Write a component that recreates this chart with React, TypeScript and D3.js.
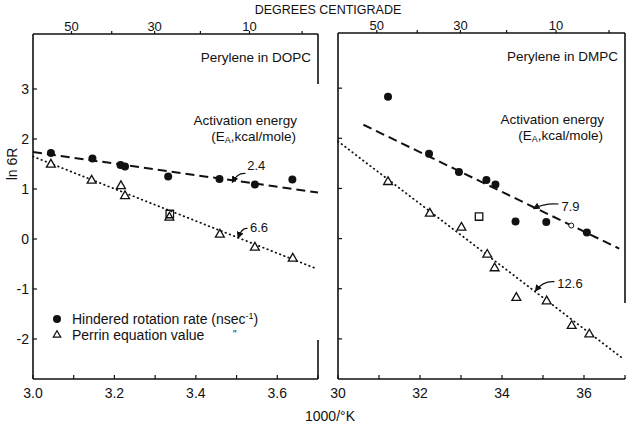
import React from 'react'
import * as d3 from 'd3'

// values: [1000/T, ln 6R]
const dopcRate = [[3.044, 1.72], [3.146, 1.61], [3.215, 1.48], [3.226, 1.45], [3.332, 1.25], [3.458, 1.20], [3.545, 1.09], [3.637, 1.19]]
const dopcPerrin = [[3.044, 1.51], [3.144, 1.19], [3.216, 1.08], [3.226, 0.88], [3.335, 0.45], [3.459, 0.11], [3.545, -0.15], [3.638, -0.37]]
const dopcSquare = [[3.336, 0.5]]
const dopcRateFit = [[3.0, 1.74], [3.7, 0.93]]
const dopcPerrinFit = [[3.0, 1.65], [3.695, -0.59]]

const dmpcRate = [[3.122, 2.83], [3.222, 1.69], [3.295, 1.33], [3.362, 1.17], [3.384, 1.08], [3.433, 0.34], [3.508, 0.33], [3.607, 0.12]]
const dmpcOpen = [[3.569, 0.26]]
const dmpcSquare = [[3.344, 0.44]]
const dmpcPerrin = [[3.122, 1.15], [3.224, 0.52], [3.301, 0.24], [3.364, -0.3], [3.382, -0.57], [3.435, -1.16], [3.509, -1.23], [3.57, -1.72], [3.613, -1.89]]
const dmpcRateFit = [[3.062, 2.27], [3.686, -0.2]]
const dmpcPerrinFit = [[3.0, 1.94], [3.693, -2.38]]

const yTicks = [-2, -1, 0, 1, 2, 3]
const xTicks = [3.0, 3.1, 3.2, 3.3, 3.4, 3.5, 3.6, 3.7]
const leftXLabels = ['3.0', '3.2', '3.4', '3.6']
const rightXLabels = ['30', '32', '34', '36']
const celsiusTicks = [50, 40, 30, 20, 10, 0]
const celsiusLabels = [50, 30, 10]

// annotation: label, text anchor point, arrow start, arrow end (data coords)
const dopcNotes = [
  {label: '2.4', at: [3.526, 1.38], from: [3.522, 1.31], to: [3.49, 1.14]},
  {label: '6.6', at: [3.533, 0.14], from: [3.527, 0.21], to: [3.504, 0.03]},
]
const dmpcNotes = [
  {label: '7.9', at: [3.545, 0.55], from: [3.538, 0.69], to: [3.478, 0.6]},
  {label: '12.6', at: [3.535, -0.99], from: [3.528, -0.86], to: [3.482, -1.04]},
]

const FONT = '"Liberation Sans", Arial, sans-serif'
const yDomain = [-2.8, 4.1]

const toInvK = (c: number) => 1000 / (c + 273.15)

const Panel = ({x0, x1, y0, y1, rate, perrin, squares, open, rateFit, perrinFit, notes, title, xLabels, showY, gapTop, gapBottom}: any) => {
  const x = d3.scaleLinear().domain([3.0, 3.7]).range([x0, x1])
  const y = d3.scaleLinear().domain(yDomain).range([y1, y0])
  const line = d3.line<number[]>().x(d => x(d[0])).y(d => y(d[1]))
  const tri = d3.symbol().type(d3.symbolTriangle).size(34)
  const sq = d3.symbol().type(d3.symbolSquare).size(56)

  return (
    <g>
      {/* frame */}
      <g stroke="#111" strokeWidth={1.6} fill="none">
        <line x1={x0} y1={y0} x2={x1} y2={y0} />
        <line x1={x0} y1={y0} x2={x0} y2={y1} />
        <line x1={x0} y1={y1} x2={x1} y2={y1} />
        <line x1={x1} y1={y0} x2={x1} y2={gapTop} />
        <line x1={x1} y1={gapBottom} x2={x1} y2={y1} />
      </g>
      {/* bottom ticks */}
      {xTicks.map(t => (
        <line key={t} x1={x(t)} x2={x(t)} y1={y1} y2={y1 - 4} stroke="#111" strokeWidth={1.2} />
      ))}
      {xLabels.map((l: string, i: number) => (
        <text key={l} x={x(xTicks[i * 2])} y={398} textAnchor="middle" fontSize={14} fontFamily={FONT} fill="#111">{l}</text>
      ))}
      {/* top celsius ticks */}
      {celsiusTicks.map(c => (
        <line key={c} x1={x(toInvK(c))} x2={x(toInvK(c))} y1={y0} y2={y0 - 3} stroke="#111" strokeWidth={1.2} />
      ))}
      {celsiusLabels.map(c => (
        <text key={c} x={x(toInvK(c))} y={y0 - 3} textAnchor="middle" fontSize={13} fontFamily={FONT} fill="#111">{c}</text>
      ))}
      {/* y ticks */}
      {yTicks.map(t => (
        <g key={t}>
          <line x1={x0} x2={x0 + 4} y1={y(t)} y2={y(t)} stroke="#111" strokeWidth={1.2} />
          {showY && <text x={x0 - 4} y={y(t) + 5} textAnchor="end" fontSize={14} fontFamily={FONT} fill="#111">{t}</text>}
        </g>
      ))}
      {/* fit lines */}
      <path d={line(rateFit) as string} stroke="#111" strokeWidth={2} strokeDasharray="9,5" fill="none" />
      <path d={line(perrinFit) as string} stroke="#111" strokeWidth={1.8} strokeDasharray="0.5,4" strokeLinecap="round" fill="none" />
      {/* points */}
      {rate.map((d: number[], i: number) => (
        <circle key={'r' + i} cx={x(d[0])} cy={y(d[1])} r={4} fill="#111" />
      ))}
      {perrin.map((d: number[], i: number) => (
        <path key={'p' + i} d={tri() as string} transform={`translate(${x(d[0])},${y(d[1]) + 1})`} fill="#fff" stroke="#111" strokeWidth={1.3} />
      ))}
      {squares.map((d: number[], i: number) => (
        <path key={'s' + i} d={sq() as string} transform={`translate(${x(d[0])},${y(d[1])})`} fill="none" stroke="#111" strokeWidth={1.3} />
      ))}
      {open.map((d: number[], i: number) => (
        <circle key={'o' + i} cx={x(d[0])} cy={y(d[1])} r={2.5} fill="#fff" stroke="#111" strokeWidth={1} />
      ))}
      {/* annotations */}
      {notes.map((n: any) => {
        const sx = x(n.from[0]), sy = y(n.from[1]), ex = x(n.to[0]), ey = y(n.to[1])
        const p = d3.path()
        p.moveTo(sx, sy)
        p.quadraticCurveTo(sx - (sx - ex) * 0.6, sy - 1, ex, ey)
        return (
          <g key={n.label}>
            <path d={p.toString()} stroke="#111" strokeWidth={1.2} fill="none" markerEnd="url(#arrow)" />
            <text x={x(n.at[0])} y={y(n.at[1])} fontSize={13} fontFamily={FONT} fill="#111">{n.label}</text>
          </g>
        )
      })}
      <text x={x1 - 7} y={y0 + 28} textAnchor="end" fontSize={13.5} fontFamily={FONT} fill="#111">{title}</text>
      <text x={x1 - 21} y={y0 + 91} textAnchor="end" fontSize={13.5} fontFamily={FONT} fill="#111">Activation energy</text>
      <text x={x1 - 22} y={y0 + 107} textAnchor="end" fontSize={13.5} fontFamily={FONT} fill="#111">
        (E<tspan fontSize={9} dy={2}>A</tspan><tspan dy={-2}>,kcal/mole)</tspan>
      </text>
    </g>
  )
}

export default function App() {
  return (
    <svg width={630} height={424} style={{position: 'absolute', left: 0, top: 0, background: '#fff'}}>
      <defs>
        <marker id="arrow" viewBox="0 0 10 10" refX={8} refY={5} markerWidth={7} markerHeight={7} orient="auto" markerUnits="userSpaceOnUse">
          <path d="M0,0 L10,5 L0,10 z" fill="#111" />
        </marker>
      </defs>
      <rect width={630} height={424} fill="#fff" />
      <text x={328} y={14} textAnchor="middle" fontSize={12.5} fontFamily={FONT} fill="#111">DEGREES CENTIGRADE</text>
      <Panel x0={33} x1={318} y0={34} y1={379} rate={dopcRate} perrin={dopcPerrin} squares={dopcSquare} open={[]}
        rateFit={dopcRateFit} perrinFit={dopcPerrinFit} notes={dopcNotes} title="Perylene in DOPC"
        xLabels={leftXLabels} showY={true} gapTop={84} gapBottom={340} />
      <Panel x0={338} x1={625} y0={33} y1={379} rate={dmpcRate} perrin={dmpcPerrin} squares={dmpcSquare} open={dmpcOpen}
        rateFit={dmpcRateFit} perrinFit={dmpcPerrinFit} notes={dmpcNotes} title="Perylene in DMPC"
        xLabels={rightXLabels} showY={false} gapTop={303} gapBottom={378} />
      <text transform="translate(17,164) rotate(-90)" textAnchor="middle" fontSize={14} fontFamily={FONT} fill="#111">ln 6R</text>
      {/* legend */}
      <circle cx={57} cy={319} r={4} fill="#111" />
      <text x={72} y={324} fontSize={14} fontFamily={FONT} fill="#111">Hindered rotation rate (nsec<tspan fontSize={9} dy={-5}>-1</tspan><tspan dy={5}>)</tspan></text>
      <path d={d3.symbol().type(d3.symbolTriangle).size(24)() as string} transform="translate(57,335)" fill="#fff" stroke="#111" strokeWidth={1.2} />
      <text x={72} y={340} fontSize={14} fontFamily={FONT} fill="#111">Perrin equation value</text>
      <text x={233} y={338} fontSize={10} fontFamily={FONT} fill="#111">"</text>
      <text x={330} y={421} textAnchor="middle" fontSize={14} fontFamily={FONT} fill="#111">1000/°K</text>
    </svg>
  )
}
